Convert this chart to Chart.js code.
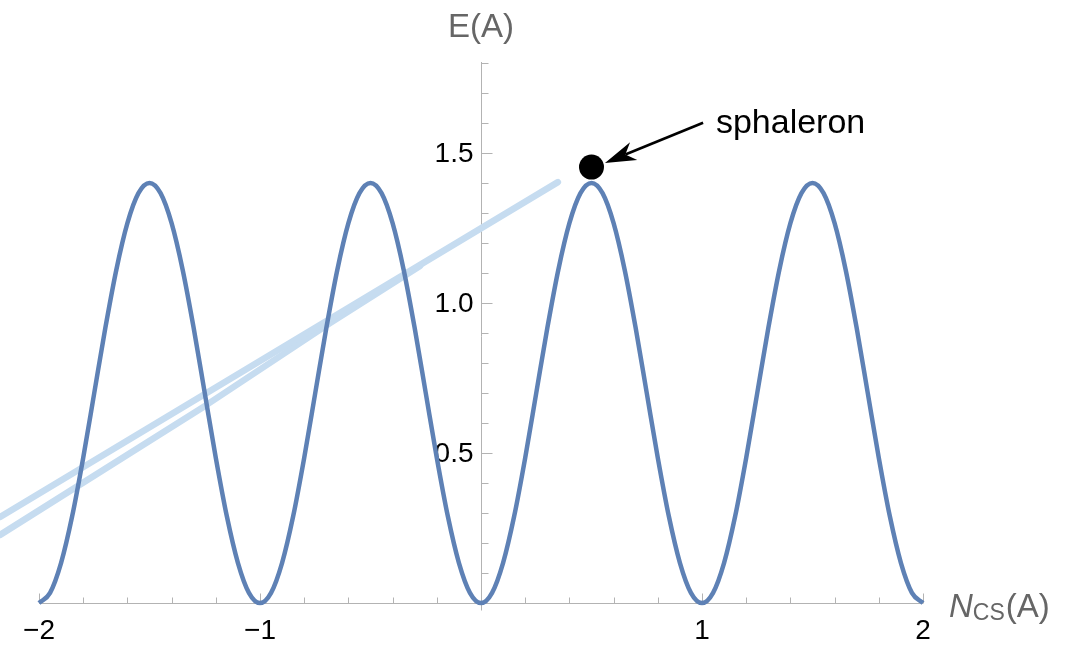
<!DOCTYPE html>
<html>
<head>
<meta charset="utf-8">
<title>Sphaleron energy barrier</title>
<script src="https://cdn.jsdelivr.net/npm/chart.js@4.4.1/dist/chart.umd.min.js"></script>
<style>
  html, body { margin: 0; padding: 0; background: #ffffff; }
  #wrap { width: 1072px; height: 645px; position: relative; }
</style>
</head>
<body>
<div id="wrap"><canvas id="c" width="1072" height="645"></canvas></div>
<script>
// Chern–Simons number N_CS(A) at which the barrier energy is sampled
const ncs = [
  -2.00, -1.95, -1.90, -1.85, -1.80, -1.75, -1.70, -1.65, -1.60, -1.55,
  -1.50, -1.45, -1.40, -1.35, -1.30, -1.25, -1.20, -1.15, -1.10, -1.05,
  -1.00, -0.95, -0.90, -0.85, -0.80, -0.75, -0.70, -0.65, -0.60, -0.55,
  -0.50, -0.45, -0.40, -0.35, -0.30, -0.25, -0.20, -0.15, -0.10, -0.05,
   0.00,  0.05,  0.10,  0.15,  0.20,  0.25,  0.30,  0.35,  0.40,  0.45,
   0.50,  0.55,  0.60,  0.65,  0.70,  0.75,  0.80,  0.85,  0.90,  0.95,
   1.00,  1.05,  1.10,  1.15,  1.20,  1.25,  1.30,  1.35,  1.40,  1.45,
   1.50,  1.55,  1.60,  1.65,  1.70,  1.75,  1.80,  1.85,  1.90,  1.95,
   2.00
];

// Energy E(A) along the periodic vacuum structure
const energy = [
  0.000, 0.034, 0.134, 0.289, 0.484, 0.700, 0.916, 1.111, 1.266, 1.366,
  1.400, 1.366, 1.266, 1.111, 0.916, 0.700, 0.484, 0.289, 0.134, 0.034,
  0.000, 0.034, 0.134, 0.289, 0.484, 0.700, 0.916, 1.111, 1.266, 1.366,
  1.400, 1.366, 1.266, 1.111, 0.916, 0.700, 0.484, 0.289, 0.134, 0.034,
  0.000, 0.034, 0.134, 0.289, 0.484, 0.700, 0.916, 1.111, 1.266, 1.366,
  1.400, 1.366, 1.266, 1.111, 0.916, 0.700, 0.484, 0.289, 0.134, 0.034,
  0.000, 0.034, 0.134, 0.289, 0.484, 0.700, 0.916, 1.111, 1.266, 1.366,
  1.400, 1.366, 1.266, 1.111, 0.916, 0.700, 0.484, 0.289, 0.134, 0.034,
  0.000
];

// Two pale rising guide lines
const guideUpperX = [-2.176, 0.348];
const guideUpperY = [0.287, 1.403];
const guideLowerX = [-2.176, -1.249, -0.683, -0.276];
const guideLowerY = [0.227, 0.657, 0.933, 1.123];

// Sphaleron marker and its annotation
const sphaleronPoint = [0.50, 1.453];
const arrowTail = [1.005, 1.601];
const arrowTip = [0.561, 1.467];
const sphaleronLabelAt = [1.063, 1.567];
const sphaleronLabel = 'sphaleron';

// Axis ticks
const xTickValues = [-2, -1, 1, 2];
const xTickLabels = ['\u22122', '\u22121', '1', '2'];
const xMinorTicks = [-1.8, -1.6, -1.4, -1.2, -0.8, -0.6, -0.4, -0.2,
                     0.2, 0.4, 0.6, 0.8, 1.2, 1.4, 1.6, 1.8];
const yTickValues = [0.5, 1.0, 1.5];
const yTickLabels = ['0.5', '1.0', '1.5'];
const yMinorTicks = [0.1, 0.2, 0.3, 0.4, 0.6, 0.7, 0.8, 0.9,
                     1.1, 1.2, 1.3, 1.4, 1.6, 1.7, 1.8];
const xRange = [-2, 2];
const yRange = [0, 1.8];

const FONT = '"Liberation Sans", Arial, Helvetica, sans-serif';
const AXIS_GRAY = '#b3b3b3';
const TITLE_GRAY = '#666666';
const TICK_FONT_SIZE = 28;

const toPoints = (xs, ys) => xs.map((x, i) => ({ x: x, y: ys[i] }));

// Axes drawn through the origin with inward-pointing ticks
const originAxes = {
  id: 'originAxes',
  beforeDatasetsDraw(chart) {
    const { ctx, scales: { x, y } } = chart;
    const x0 = Math.round(x.getPixelForValue(0)) + 0.5;
    const y0 = Math.round(y.getPixelForValue(0)) + 0.5;
    ctx.save();
    ctx.strokeStyle = AXIS_GRAY;
    ctx.lineWidth = 1;
    ctx.beginPath();
    ctx.moveTo(x.getPixelForValue(xRange[0]), y0);
    ctx.lineTo(x.getPixelForValue(xRange[1]), y0);
    ctx.moveTo(x0, y.getPixelForValue(yRange[1]) - 1);
    ctx.lineTo(x0, y0 + 7);
    xTickValues.forEach(v => {
      const px = Math.round(x.getPixelForValue(v)) + 0.5;
      ctx.moveTo(px, y0); ctx.lineTo(px, y0 - 10);
    });
    xMinorTicks.forEach(v => {
      const px = Math.round(x.getPixelForValue(v)) + 0.5;
      ctx.moveTo(px, y0); ctx.lineTo(px, y0 - 6);
    });
    yTickValues.forEach(v => {
      const py = Math.round(y.getPixelForValue(v)) + 0.5;
      ctx.moveTo(x0, py); ctx.lineTo(x0 + 11, py);
    });
    yMinorTicks.forEach(v => {
      const py = Math.round(y.getPixelForValue(v)) + 0.5;
      ctx.moveTo(x0, py); ctx.lineTo(x0 + 7, py);
    });
    ctx.stroke();

    // vertical-axis tick labels, set to the left of the axis
    ctx.fillStyle = '#000000';
    ctx.font = TICK_FONT_SIZE + 'px ' + FONT;
    ctx.textAlign = 'right';
    ctx.textBaseline = 'middle';
    yTickValues.forEach((v, i) => {
      ctx.fillText(yTickLabels[i], x0 - 8, y.getPixelForValue(v) + 1);
    });
    ctx.restore();
  },
  afterDatasetsDraw(chart) {
    const { ctx, scales: { x, y } } = chart;
    ctx.save();
    // axis titles
    ctx.fillStyle = TITLE_GRAY;
    ctx.textBaseline = 'alphabetic';
    ctx.textAlign = 'center';
    ctx.font = '33px ' + FONT;
    ctx.fillText('E(A)', x.getPixelForValue(0), y.top - 26);

    let tx = x.right + 26;
    const ty = y.bottom + 14;
    ctx.textAlign = 'left';
    ctx.font = 'italic 33px ' + FONT;
    ctx.fillText('N', tx, ty);
    tx += ctx.measureText('N').width;
    ctx.font = '23px ' + FONT;
    ctx.fillText('CS', tx, ty + 3);
    tx += ctx.measureText('CS').width + 1;
    ctx.font = '33px ' + FONT;
    ctx.fillText('(A)', tx, ty);

    // arrow pointing at the sphaleron
    const tailX = x.getPixelForValue(arrowTail[0]);
    const tailY = y.getPixelForValue(arrowTail[1]);
    const tipX = x.getPixelForValue(arrowTip[0]);
    const tipY = y.getPixelForValue(arrowTip[1]);
    const dx = tipX - tailX, dy = tipY - tailY;
    const len = Math.hypot(dx, dy);
    const ux = dx / len, uy = dy / len;
    const nx = -uy, ny = ux;
    const headLen = 31, headHalf = 9.5, notch = 22;
    ctx.strokeStyle = '#000';
    ctx.lineWidth = 2.6;
    ctx.beginPath();
    ctx.moveTo(tailX, tailY);
    ctx.lineTo(tipX - ux * notch, tipY - uy * notch);
    ctx.stroke();
    ctx.fillStyle = '#000';
    ctx.beginPath();
    ctx.moveTo(tipX, tipY);
    ctx.lineTo(tipX - ux * headLen + nx * headHalf, tipY - uy * headLen + ny * headHalf);
    ctx.lineTo(tipX - ux * notch, tipY - uy * notch);
    ctx.lineTo(tipX - ux * headLen - nx * headHalf, tipY - uy * headLen - ny * headHalf);
    ctx.closePath();
    ctx.fill();

    // label
    ctx.fillStyle = '#000';
    ctx.textAlign = 'left';
    ctx.font = '34px ' + FONT;
    ctx.fillText(sphaleronLabel, x.getPixelForValue(sphaleronLabelAt[0]),
                 y.getPixelForValue(sphaleronLabelAt[1]));
    ctx.restore();
  }
};

new Chart(document.getElementById('c'), {
  type: 'line',
  data: {
    datasets: [
      {
        type: 'scatter',
        data: [{ x: sphaleronPoint[0], y: sphaleronPoint[1] }],
        backgroundColor: '#000000',
        borderWidth: 0,
        pointRadius: 12.5,
        clip: false,
        order: 0
      },
      {
        data: toPoints(ncs, energy),
        borderColor: '#5e81b5',
        borderWidth: 4.5,
        pointRadius: 0,
        cubicInterpolationMode: 'monotone',
        fill: false,
        clip: false,
        order: 1
      },
      {
        data: toPoints(guideUpperX, guideUpperY),
        borderColor: '#c6dcf0',
        borderWidth: 6.5,
        borderCapStyle: 'round',
        pointRadius: 0,
        tension: 0,
        fill: false,
        clip: false,
        order: 2
      },
      {
        data: toPoints(guideLowerX, guideLowerY),
        borderColor: '#c6dcf0',
        borderWidth: 6.5,
        borderCapStyle: 'round',
        borderJoinStyle: 'round',
        pointRadius: 0,
        tension: 0,
        fill: false,
        clip: false,
        order: 3
      }
    ]
  },
  options: {
    responsive: false,
    animation: false,
    events: [],
    layout: { padding: { left: 39, right: 149, top: 63, bottom: 42 } },
    plugins: { legend: { display: false }, tooltip: { enabled: false } },
    scales: {
      x: {
        type: 'linear',
        min: xRange[0],
        max: xRange[1],
        position: { y: 0 },
        grid: { display: false, drawTicks: false },
        border: { display: false },
        afterBuildTicks: s => { s.ticks = xTickValues.map(v => ({ value: v })); },
        ticks: {
          autoSkip: false,
          maxRotation: 0,
          padding: 11,
          color: '#000000',
          font: { family: FONT, size: TICK_FONT_SIZE },
          callback: (v, i) => xTickLabels[i]
        }
      },
      y: {
        type: 'linear',
        min: yRange[0],
        max: yRange[1],
        position: { x: 0 },
        grid: { display: false, drawTicks: false },
        border: { display: false },
        ticks: { display: false }
      }
    }
  },
  plugins: [originAxes]
});
</script>
</body>
</html>
